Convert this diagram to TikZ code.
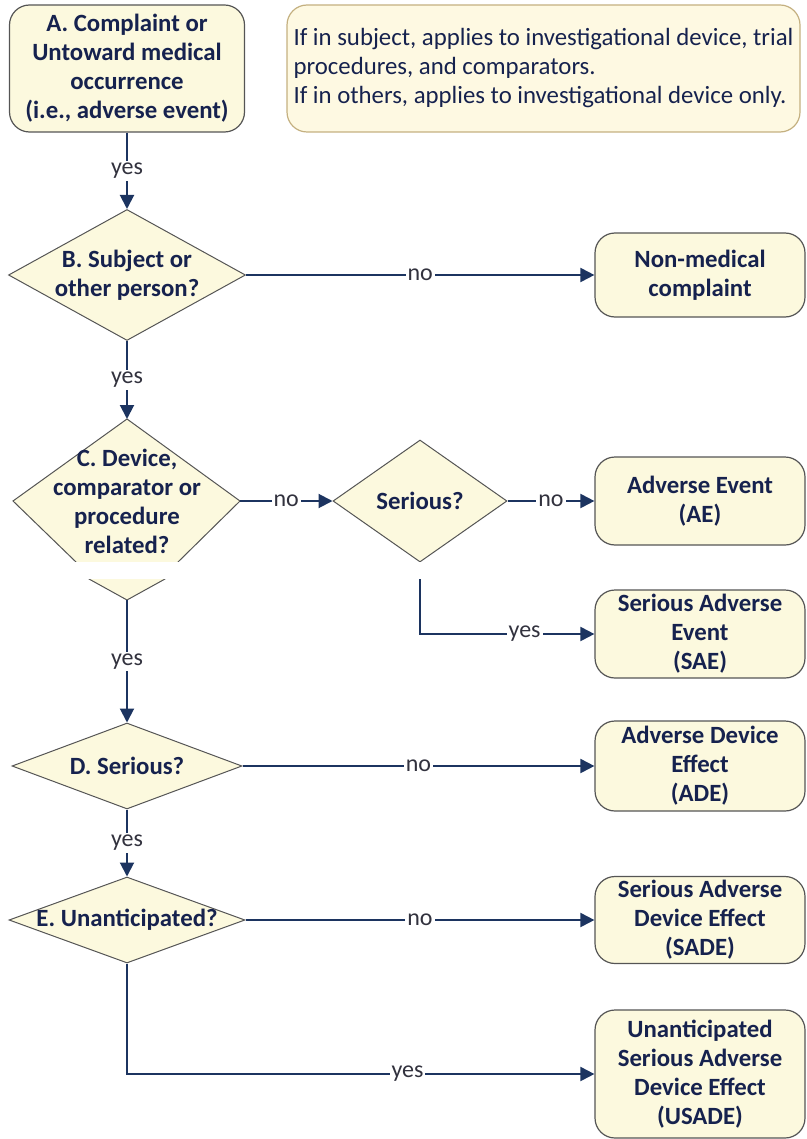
\documentclass[tikz,border=0pt]{standalone}
\usepackage{fontspec}
\setmainfont{Carlito}
\usetikzlibrary{shapes.geometric,arrows.meta}
\definecolor{boxfill}{RGB}{252,249,222}
\definecolor{notefill}{RGB}{254,249,226}
\definecolor{boxline}{RGB}{85,85,85}
\definecolor{noteline}{RGB}{196,176,128}
\definecolor{txtcol}{RGB}{22,34,78}
\definecolor{linecol}{RGB}{28,52,96}
\definecolor{lblcol}{RGB}{50,50,62}
\begin{document}
\begin{tikzpicture}[x=0.5pt,y=-0.5pt,
  outbox/.style={draw=boxline, fill=boxfill, line width=0.6pt, rounded corners=10pt,
    minimum width=105pt, inner sep=0pt, align=center, text=txtcol,
    font=\bfseries\fontsize{12.4}{14.5}\selectfont},
  notebox/.style={draw=noteline, fill=notefill, line width=0.6pt, rounded corners=10pt,
    minimum width=256.5pt, minimum height=63.5pt, inner sep=0pt, align=left, text=txtcol,
    font=\fontsize{12.4}{14.5}\selectfont},
  dia/.style={shape=diamond, draw=boxline, fill=boxfill, line width=0.5pt, inner sep=0pt},
  dtext/.style={text=txtcol, align=center, inner sep=0pt,
    font=\bfseries\fontsize{12.4}{14.5}\selectfont},
  conn/.style={draw=linecol, line width=1pt, -{Triangle[length=7pt,width=7pt]}},
  lab/.style={fill=white, inner sep=1pt, text=lblcol, font=\fontsize{12}{14}\selectfont},
]
\useasboundingbox (0,0) rectangle (807,1139);

% top boxes
\node[outbox, minimum width=117.5pt, minimum height=63.5pt] (A) at (127,68.5)
  {A. Complaint or\\Untoward medical\\occurrence\\(i.e., adverse event)};
\node[notebox] (note) at (543.5,68.5)
  {If in subject, applies to investigational device, trial\\procedures, and comparators.\\If in others, applies to investigational device only.};

% diamonds
\node[dia, minimum width=118.5pt, minimum height=65.5pt] (B) at (127,275) {};
\node[dtext] (Btext) at (B) {B. Subject or\\other person?};

\coordinate (Ct) at (127,419);
\coordinate (Cl) at (13,501);
\coordinate (Cr) at (240,501);
\coordinate (Cb) at (127,600);
\filldraw[fill=boxfill, draw=boxline, line width=0.5pt]
  (Ct) -- (Cr) -- (178,562) -- (165,579) -- (Cb) -- (89,579) -- (76,562) -- (Cl) -- cycle;
\node[dtext] (Ctext) at (127,501) {C. Device,\\comparator or\\procedure\\related?};

\node[dia, minimum width=87pt, minimum height=61pt] (Ser) at (420,501) {};
\node[dtext] (Sertext) at (Ser) {Serious?};

\node[dia, minimum width=115pt, minimum height=43pt] (D) at (127,766) {};
\node[dtext] (Dtext) at (D) {D. Serious?};

\node[dia, minimum width=118pt, minimum height=43pt] (E) at (127,920) {};
\node[dtext] (Etext) at (E) {E. Unanticipated?};

% outcome boxes
\node[outbox, minimum height=42pt] (NM) at (700,275) {Non-medical\\complaint};
\node[outbox, minimum height=44pt] (AE) at (700,501) {Adverse Event\\(AE)};
\node[outbox, minimum height=44pt] (SAE) at (700,634) {Serious Adverse\\Event\\(SAE)};
\node[outbox, minimum height=45pt] (ADE) at (700,766) {Adverse Device\\Effect\\(ADE)};
\node[outbox, minimum height=43.5pt] (SADE) at (700,920) {Serious Adverse\\Device Effect\\(SADE)};
\node[outbox, minimum height=64pt] (USADE) at (700,1074) {Unanticipated\\Serious Adverse\\Device Effect\\(USADE)};

% connectors
\draw[conn] (A.south) -- node[lab]{yes} (B.north);
\draw[conn] (B.east) -- node[lab]{no} (NM.west);
\draw[conn] (B.south) -- node[lab]{yes} (Ct);
\draw[conn] (Cr) -- node[lab]{no} (Ser.west);
\draw[conn] (Ser.east) -- node[lab]{no} (AE.west);
\draw[conn] (Ser.south) |- node[lab,pos=0.8]{yes} (SAE.west);
\draw[conn] (Cb) -- node[lab]{yes} (D.north);
\draw[conn] (D.east) -- node[lab]{no} (ADE.west);
\draw[conn] (D.south) -- node[lab]{yes} (E.north);
\draw[conn] (E.east) -- node[lab]{no} (SADE.west);
\draw[conn] (E.south) |- node[lab,pos=0.8]{yes} (USADE.west);

% white band crossing the picture
\fill[white] (0,562) rectangle (807,579);
\end{tikzpicture}
\end{document}
